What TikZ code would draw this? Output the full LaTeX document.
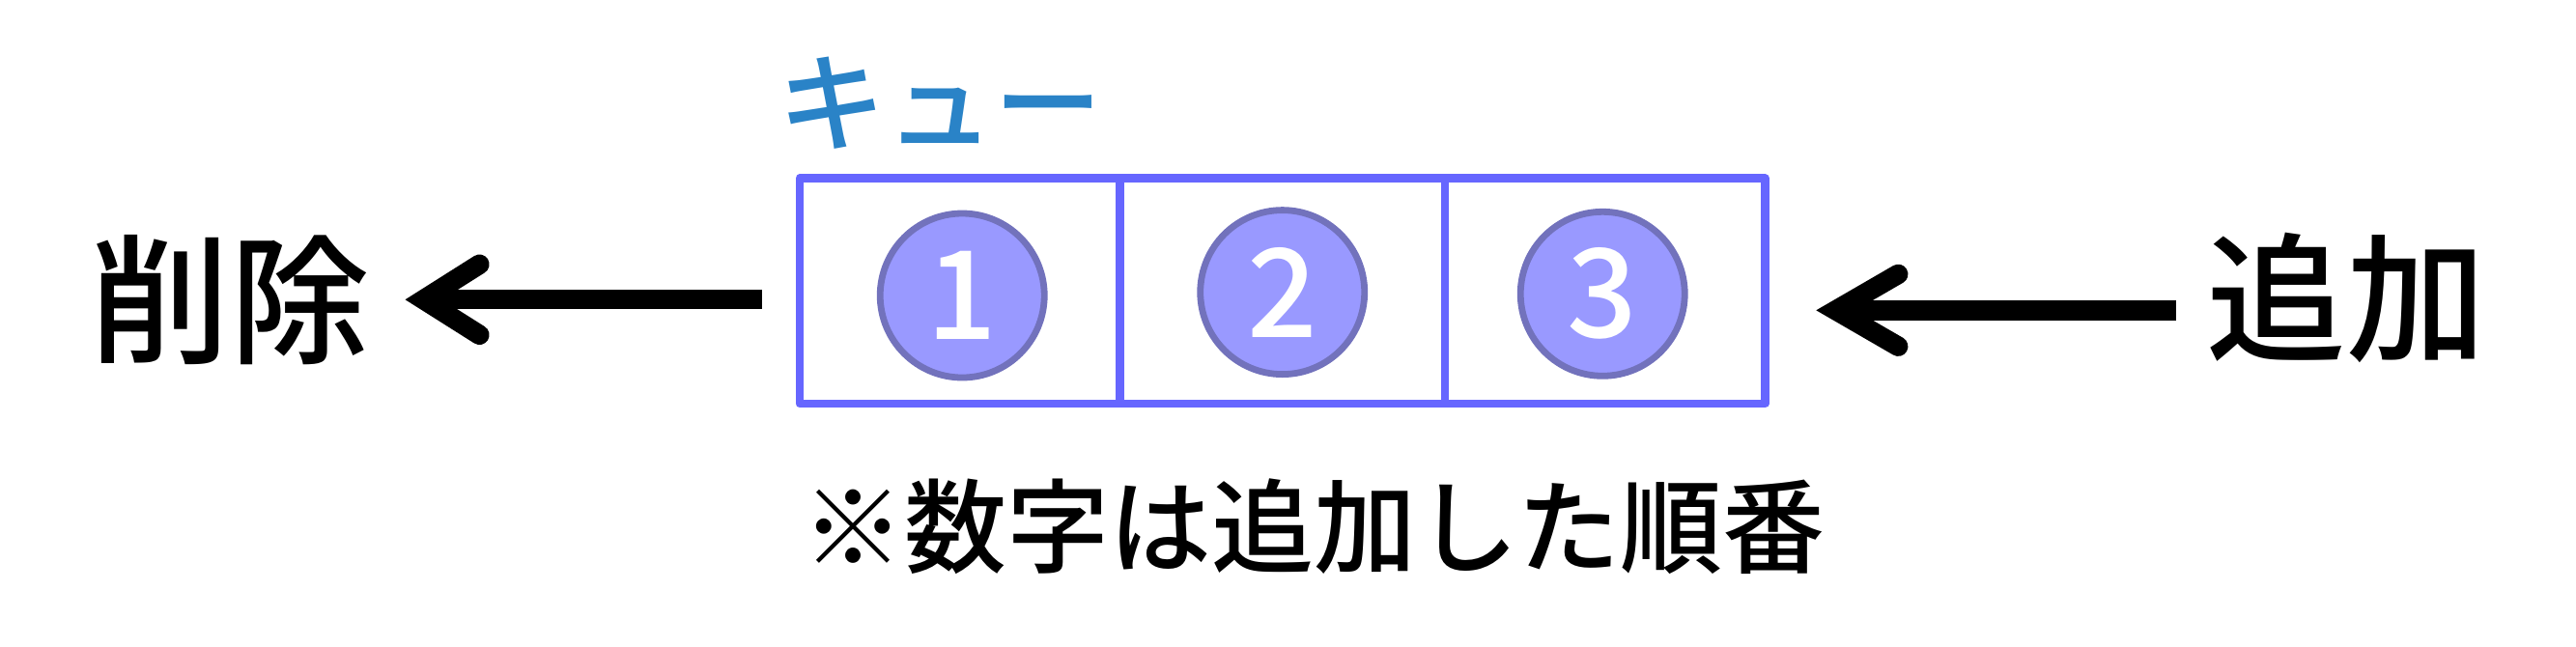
\documentclass[tikz,border=0pt]{standalone}
\usepackage{fontspec}
\setmainfont{Noto Sans CJK JP}[UprightFont={* Medium}]
\usetikzlibrary{calc}
\definecolor{boxblue}{HTML}{6666FF}
\definecolor{coinfill}{HTML}{9999FF}
\definecolor{coinedge}{HTML}{7272BC}
\definecolor{titleblue}{HTML}{2A83C7}
\begin{document}
\begin{tikzpicture}[x=0.6pt,y=-0.6pt,
  cellbox/.style={draw=boxblue, line width=3pt, line join=round, inner sep=0pt,
    minimum width=352.8pt, minimum height=82.4pt},
  boxline/.style={draw=boxblue, line width=3pt},
  coin/.style={circle, draw=coinedge, fill=coinfill, line width=2.4pt,
    minimum size=60pt, inner sep=0pt, text=white, font=\fontsize{45}{45}\selectfont},
  bigword/.style={inner sep=0pt, font=\fontsize{51}{51}\selectfont},
  titleword/.style={inner sep=0pt, text=titleblue, font=\fontsize{39.5}{39.5}\selectfont},
  noteword/.style={inner sep=0pt, font=\fontsize{37.4}{37.4}\selectfont},
  shaft/.style={line width=7.2pt},
  head/.style={line width=7.2pt, line cap=round, line join=miter}]
\useasboundingbox (0,0) rectangle (1568.8,394.1);

% queue box
\node[cellbox] (queue) at (781,177.3) {};
\draw[boxline] ($(queue.north west)!1/3!(queue.north east)$) -- ($(queue.south west)!1/3!(queue.south east)$);
\draw[boxline] ($(queue.north west)!2/3!(queue.north east)$) -- ($(queue.south west)!2/3!(queue.south east)$);

% coins
\node[coin] (c1) at (586,180) {1};
\node[coin] (c2) at (781,178) {2};
\node[coin] (c3) at (976,179) {3};

% labels
\node[titleword] (title) at (572.5,63) {キュー};
\node[bigword] (del) at (140,182.5) {削除};
\node[bigword] (add) at (1429,181.5) {追加};
\node[noteword] (note) at (800,320.6) {※数字は追加した順番};

% left arrow (dequeue)
\coordinate (lstart) at (464,182.5);
\coordinate (ltip) at (258,182.5);
\draw[shaft] (lstart) -- (ltip);
\draw[head] ($(ltip)+(34,-21.5)$) -- (ltip) -- ($(ltip)+(34,21.5)$);

% right arrow (enqueue)
\coordinate (rstart) at (1325,189);
\coordinate (rtip) at (1118,189);
\draw[shaft] (rstart) -- (rtip);
\draw[head] ($(rtip)+(38,-22)$) -- (rtip) -- ($(rtip)+(38,22)$);
\end{tikzpicture}
\end{document}
